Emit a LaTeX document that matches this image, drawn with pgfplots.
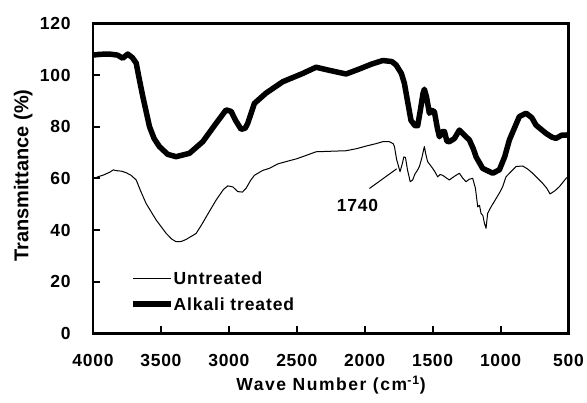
\documentclass[border=0pt]{standalone}
\usepackage{fontspec}
\setmainfont{Liberation Sans}
\newfontfamily\xlabfont[LetterSpace=9]{Liberation Sans}
\newfontfamily\tickfont[LetterSpace=4]{Liberation Sans}
\newfontfamily\legfont[LetterSpace=5]{Liberation Sans}
\usepackage{pgfplots}
\pgfplotsset{compat=1.18}

\begin{document}
\begin{tikzpicture}
\path[use as bounding box] (-93pt,-69.5pt) rectangle (494pt,333.5pt);
\begin{axis}[
  at={(0pt,0pt)}, anchor=south west,
  scale only axis, width=475.5pt, height=310.2pt,
  xmin=500, xmax=4000, x dir=reverse,
  ymin=0, ymax=120,
  xtick={500,1000,...,4000}, ytick={0,20,...,120},
  xtick pos=bottom, ytick pos=left,
  tick align=inside, major tick length=7pt,
  tick style={line width=2pt, black},
  axis line style={line width=2.8pt},
  /pgf/number format/assume math mode=true,
  /pgf/number format/1000 sep={},
  xticklabel style={font=\tickfont\fontsize{17.5}{17.5}\selectfont\bfseries, anchor=base, inner sep=0pt, yshift=-33.2pt},
  yticklabel style={font=\tickfont\fontsize{17.5}{17.5}\selectfont\bfseries, anchor=east, inner sep=0pt, xshift=-22.3pt},
  xlabel={Wave Number (cm\textsuperscript{-1})},
  ylabel={Transmittance (\%)},
  xlabel style={font=\xlabfont\fontsize{17.5}{17.5}\selectfont\bfseries, at={(axis description cs:0.5005,-0.1844)}, anchor=base, inner sep=0pt},
  ylabel style={font=\fontsize{20}{20}\selectfont\bfseries, at={(axis description cs:-0.136,0.509)}, anchor=base, rotate=0, inner sep=0pt},
  legend image code/.code={\draw[#1] (0pt,0pt) -- (38pt,0pt);},
  legend cell align=left,
  legend style={at={(axis description cs:0.0778,0.199)}, anchor=north west, draw=none, fill=none, inner sep=0pt, row sep=13.2pt,
    font=\legfont\fontsize{17.5}{17.5}\selectfont\bfseries,
    nodes={inner sep=0pt, text height=12.5pt, text depth=0pt, anchor=west},
    /tikz/every even column/.style={column sep=3.5pt}},
]
\addplot[black, line width=1pt, line join=round] coordinates {
(4000,60.3)(3989,60.0)(3960,60.7)(3928,61.2)(3880,62.3)(3850,63.3)(3830,63.0)(3790,62.8)(3756,62.2)(3720,61.2)
(3682,59.4)(3650,55.2)(3609,50.3)(3535,43.9)(3461,38.7)(3420,36.5)(3388,35.5)(3350,35.6)(3314,36.4)(3241,38.7)
(3200,42.1)(3167,45.1)(3094,51.6)(3040,55.7)(3008,57.1)(2970,56.7)(2935,54.9)(2900,54.7)(2873,56.2)(2840,59.2)
(2812,61.2)(2750,63.1)(2701,63.9)(2640,65.6)(2578,66.5)(2500,67.6)(2420,69.1)(2358,70.3)(2250,70.5)(2137,70.7)
(2060,71.5)(1990,72.5)(1920,73.4)(1867,74.2)(1818,74.2)(1790,73.4)(1781,72.3)(1765,67.3)(1757,65.8)(1740,62.6)
(1725,65.3)(1712,68.3)(1700,68.1)(1685,63.3)(1665,58.7)(1647,59.4)(1630,61.7)(1610,63.3)(1597,64.7)(1580,67.8)
(1561,72.3)(1550,69.3)(1537,66.5)(1520,65.3)(1500,63.9)(1480,62.3)(1463,60.6)(1445,61.5)(1426,61.2)(1400,60.2)
(1377,59.4)(1340,60.8)(1303,62.0)(1280,60.2)(1254,58.7)(1230,59.7)(1205,60.0)(1185,56.2)(1168,49.0)(1155,49.6)
(1144,46.5)(1130,45.6)(1119,42.7)(1107,40.7)(1095,46.5)(1070,49.0)(1040,51.6)(1009,54.3)(985,56.7)(960,60.6)
(920,62.8)(886,64.6)(837,64.8)(800,63.6)(764,62.0)(720,59.7)(690,58.1)(660,56.2)(636,54.0)(600,55.2)
(567,56.8)(518,60.0)(500,60.8)
};
\addlegendentry{Untreated}
\addplot[black, line width=5.5pt, line join=round] coordinates {
(4000,107.7)(3950,108.0)(3879,108.1)(3820,107.7)(3781,106.5)(3744,108.1)(3710,106.7)(3682,104.6)(3660,98.6)(3633,91.6)
(3584,80.0)(3550,75.4)(3511,72.3)(3450,69.3)(3388,68.4)(3290,69.7)(3192,74.2)(3094,81.3)(3020,86.5)(2983,85.9)
(2950,82.4)(2910,79.0)(2880,79.4)(2861,81.3)(2812,89.0)(2726,93.0)(2603,97.4)(2456,100.6)(2358,103.0)(2260,101.8)
(2200,101.1)(2137,100.4)(2050,102.1)(1950,104.2)(1867,105.6)(1800,105.2)(1769,103.9)(1730,100.6)(1708,96.8)(1680,88.5)
(1659,82.4)(1630,80.4)(1610,80.4)(1590,86.5)(1570,93.1)(1561,94.5)(1545,91.5)(1524,85.2)(1505,86.3)(1487,85.8)
(1465,79.4)(1450,76.1)(1430,78.1)(1413,78.1)(1395,74.4)(1377,74.2)(1340,75.4)(1303,78.7)(1270,76.9)(1230,74.9)
(1200,71.4)(1180,68.3)(1132,63.9)(1058,62.0)(1009,63.3)(970,68.3)(935,74.9)(862,83.9)(812,85.2)(770,83.5)
(739,80.6)(665,77.4)(620,75.9)(592,75.5)(550,76.7)(508,76.8)(500,77.0)
};
\addlegendentry{Alkali treated}
\draw[line width=1pt] (axis cs:1965,56.1) -- (axis cs:1765,63.7);
\node[font=\tickfont\fontsize{17.5}{17.5}\selectfont\bfseries, anchor=base, inner sep=0pt] at (axis cs:2053,47.1) {1740};
\end{axis}
\end{tikzpicture}
\end{document}
